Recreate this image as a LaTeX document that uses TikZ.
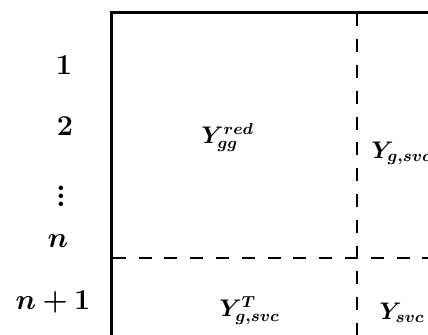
\documentclass[tikz,border=0pt]{standalone}
\usepackage{amsmath}
\usepackage{bm}
\begin{document}
\begin{tikzpicture}[x=0.5pt,y=-0.5pt,
  frameline/.style={line width=1.45pt},
  dashline/.style={line width=1.45pt,dash pattern=on 6.5pt off 6.4pt},
  rowlab/.style={inner sep=0pt,anchor=base,font=\fontsize{15.5}{18}\selectfont},
  entry/.style={inner sep=0pt,anchor=base west,font=\fontsize{12}{14}\selectfont}]
\useasboundingbox (0,0) rectangle (428,334);
\clip (0,0) rectangle (428,334);
% frame
\coordinate (tl) at (111.3,12.3);
\coordinate (bl) at (111.3,345);
\coordinate (tr) at (445,12.3);
\draw[frameline] (bl) -- (tl) -- (tr);
% dashed partition lines
\coordinate (hs) at (112.7,258);
\coordinate (he) at (445,258);
\coordinate (vs) at (357,13.3);
\coordinate (ve) at (357,345);
\draw[dashline] (hs) -- (he);
\draw[dashline] (vs) -- (ve);
% row labels
\node[rowlab] (r1) at (64,74) {$\bm{1}$};
\node[rowlab] (r2) at (65,135) {$\bm{2}$};
\node[inner sep=0pt,font=\fontsize{15.5}{18}\selectfont] (rd) at (61,190) {$\bm{\vdots}$};
\node[rowlab] (rn) at (58,247) {$\bm{n}$};
\node[rowlab] (rn1) at (53,309) {$\bm{n+1}$};
% entries
\node[entry] (ygg) at (201,143) {$\bm{Y}_{\bm{gg}}^{\bm{red}}$};
\node[entry] (ygs) at (371,158) {$\bm{Y}_{\bm{g,svc}}$};
\node[entry] (ygsT) at (219,316) {$\bm{Y}_{\bm{g,svc}}^{\bm{T}}$};
\node[entry] (ysvc) at (379,319) {$\bm{Y}_{\bm{svc}}$};
\end{tikzpicture}
\end{document}
